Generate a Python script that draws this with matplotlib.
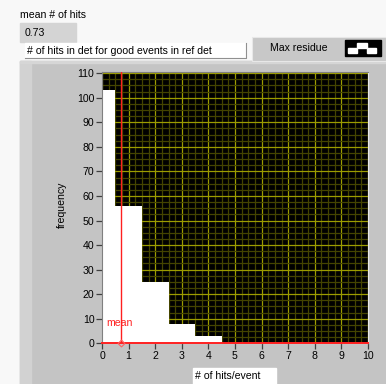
import numpy as np
import matplotlib
matplotlib.use("Agg")
import matplotlib.pyplot as plt
from matplotlib.patches import Rectangle
from matplotlib.ticker import MultipleLocator, AutoMinorLocator

plt.rcParams["font.family"] = ["Liberation Sans", "DejaVu Sans"]

# histogram of hits per event
hit_bins = [0, 1, 2, 3, 4, 5, 6, 7, 8, 9, 10]
frequency = [103, 56, 25, 8, 3, 0, 0, 0, 0, 0, 0]
mean_hits = 0.73

W, H = 386, 384
FS = 7.6
fig = plt.figure(figsize=(W / 100, H / 100), dpi=100)
fig.patch.set_facecolor("#f8f8f8")

# background overlay in pixel coordinates
bg = fig.add_axes([0, 0, 1, 1], zorder=0)
bg.set_xlim(0, W)
bg.set_ylim(H, 0)
bg.axis("off")


def box(x0, y0, x1, y1, fc, ec=None, lw=1.0, z=1):
    bg.add_patch(Rectangle((x0, y0), x1 - x0, y1 - y0, facecolor=fc,
                           edgecolor=ec if ec else fc, lw=lw, zorder=z))


# main gray panel
box(20, 61, W, H, "#c4c4c4")
box(20, 61, 31, H, "#d2d2d2")
box(20, 61, W, 63, "#d6d6d6")

# top controls
bg.text(20, 15, "mean # of hits", fontsize=FS, va="center", ha="left")
box(20, 23, 76, 42, "#d4d4d4")
bg.text(25, 33, f"{mean_hits:.2f}", fontsize=FS, va="center", ha="left")
box(25, 43, 246, 58, "white", z=2)
bg.plot([25, 246, 246], [58, 58, 43], color="#909090", lw=0.8, zorder=3)
bg.text(27, 51, "# of hits in det for good events in ref det", fontsize=FS,
        va="center", ha="left", zorder=3)
box(252, 37, W, 61, "#c8c8c8", "#e8e8e8", lw=0.8)
bg.text(270, 48, "Max residue", fontsize=FS, va="center", ha="left")
box(345, 40, 381, 56, "black")
box(348, 48, 357, 53, "white", z=2)
box(357, 43, 367, 48, "white", z=2)
box(367, 48, 376, 53, "white", z=2)

# x axis label box
box(193, 368, 276, 384, "white")
bg.text(195, 376, "# of hits/event", fontsize=FS, va="center", ha="left")
bg.text(62, 205, "frequency", fontsize=FS, va="center", ha="center", rotation=90)

# plot area
px0, px1, py_top, py_bot = 102, 368, 71.7, 343.3
ax = fig.add_axes([px0 / W, (H - py_bot) / H, (px1 - px0) / W, (py_bot - py_top) / H],
                  zorder=1)
ax.set_facecolor("black")
ax.set_xlim(0, 10)
ax.set_ylim(0, 110.6)

ax.xaxis.set_major_locator(MultipleLocator(1))
ax.yaxis.set_major_locator(MultipleLocator(10))
ax.xaxis.set_minor_locator(AutoMinorLocator(4))
ax.yaxis.set_minor_locator(AutoMinorLocator(4))
ax.set_axisbelow(True)
ax.grid(which="minor", color="#444400", lw=0.9)
ax.grid(which="major", color="#9c9c00", lw=0.9)
ax.tick_params(which="minor", length=0)
ax.tick_params(which="major", direction="out", length=4, width=0.9,
               color="#404040", labelsize=FS, pad=1.5)

edges = np.append(np.array(hit_bins) - 0.5, hit_bins[-1] + 0.5)
ax.stairs(frequency, edges, fill=True, color="white", zorder=2)

# mean cursor
ax.axvline(mean_hits, color="#ff2020", lw=1.0, zorder=3)
ax.axhline(0, color="#ff2020", lw=1.4, zorder=3, clip_on=False)
ax.plot([mean_hits], [0], marker="D", ms=3.5, mfc="none", mec="#ff6060",
        mew=0.8, zorder=4, clip_on=False)
ax.text(0.15, 8.3, "mean", color="#ff2020", fontsize=FS, va="center", ha="left",
        zorder=4)

for s in ["left", "top"]:
    ax.spines[s].set_color("#808080")
for s in ["right", "bottom"]:
    ax.spines[s].set_color("#e8e8e8")

fig.savefig("out.png", dpi=100)
